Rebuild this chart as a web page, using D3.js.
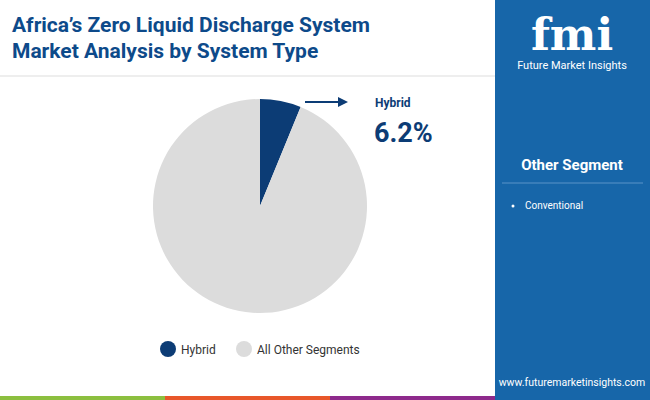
<!DOCTYPE html><html><head><meta charset="utf-8"><script src="https://cdn.jsdelivr.net/npm/d3@7"></script>
<style>body{margin:0}svg{font-family:Roboto,sans-serif}</style></head><body><svg width="650" height="400"></svg>
<script>
const categories=["Hybrid","All Other Segments"];
const values=[6.2,93.8];
const colors=["#0c3c75","#dcdcdc"];
const otherSegments=["Conventional"];
const svg=d3.select("svg");
svg.append("rect").attr("width",650).attr("height",400).attr("fill","#fff");
svg.append("text").attr("x",12).attr("y",32).attr("font-size",21).attr("font-weight",700).attr("fill","#0d4a8a").text("Africa’s Zero Liquid Discharge System");
svg.append("text").attr("x",12).attr("y",58).attr("font-size",21).attr("font-weight",700).attr("fill","#0d4a8a").text("Market Analysis by System Type");
svg.append("line").attr("x1",0).attr("x2",495).attr("y1",76).attr("y2",76).attr("stroke","#ddd");
svg.append("rect").attr("x",495).attr("y",0).attr("width",155).attr("height",400).attr("fill","#1766a9");
const g2=svg.append("g");
g2.append("text").attr("x",572).attr("y",50).attr("text-anchor","middle").attr("font-size",44).attr("font-weight",700).attr("fill","#fff").attr("font-family","DejaVu Serif").text("fmi");
g2.append("text").attr("x",572).attr("y",69).attr("text-anchor","middle").attr("font-size",11).attr("fill","#fff").text("Future Market Insights");
svg.append("text").attr("x",572).attr("y",170).attr("text-anchor","middle").attr("font-size",15).attr("font-weight",700).attr("fill","#fff").text("Other Segment");
svg.append("line").attr("x1",502).attr("x2",643).attr("y1",183).attr("y2",183).attr("stroke","#5a93c8");
otherSegments.forEach((s,i)=>{
 svg.append("circle").attr("cx",513).attr("cy",206+i*18).attr("r",1.5).attr("fill","#fff");
 svg.append("text").attr("x",525).attr("y",209+i*18).attr("font-size",10).attr("fill","#fff").text(s);
});
svg.append("text").attr("x",572).attr("y",386).attr("text-anchor","middle").attr("font-size",10.5).attr("fill","#fff").text("www.futuremarketinsights.com");
[["#8cbf3f",0],["#e8572a",165],["#8e2a8c",330]].forEach(([c,x])=>svg.append("rect").attr("x",x).attr("y",396).attr("width",165).attr("height",4).attr("fill",c));
const pie=d3.pie().sort(null).value(d=>d)(values);
const arc=d3.arc().innerRadius(0).outerRadius(107);
svg.append("g").attr("transform","translate(260,206)").selectAll("path").data(pie).join("path").attr("d",arc).attr("fill",(d,i)=>colors[i]);
svg.append("line").attr("x1",305).attr("x2",340).attr("y1",102).attr("y2",102).attr("stroke","#0c3c75").attr("stroke-width",2);
svg.append("path").attr("d","M348,102 L338,97 L338,107 Z").attr("fill","#0c3c75");
svg.append("text").attr("x",375).attr("y",107).attr("font-size",12).attr("font-weight",700).attr("fill","#0c3c75").text(categories[0]);
svg.append("text").attr("x",374).attr("y",142).attr("font-size",27).attr("font-weight",700).attr("fill","#0c3c75").text(values[0]+"%");
const lg=svg.append("g");
categories.forEach((c,i)=>{
 const x=[160,236][i];
 lg.append("circle").attr("cx",x+8).attr("cy",349).attr("r",8).attr("fill",colors[i]);
 lg.append("text").attr("x",x+21).attr("y",354).attr("font-size",12).attr("fill","#333").text(c);
});
</script></body></html>
